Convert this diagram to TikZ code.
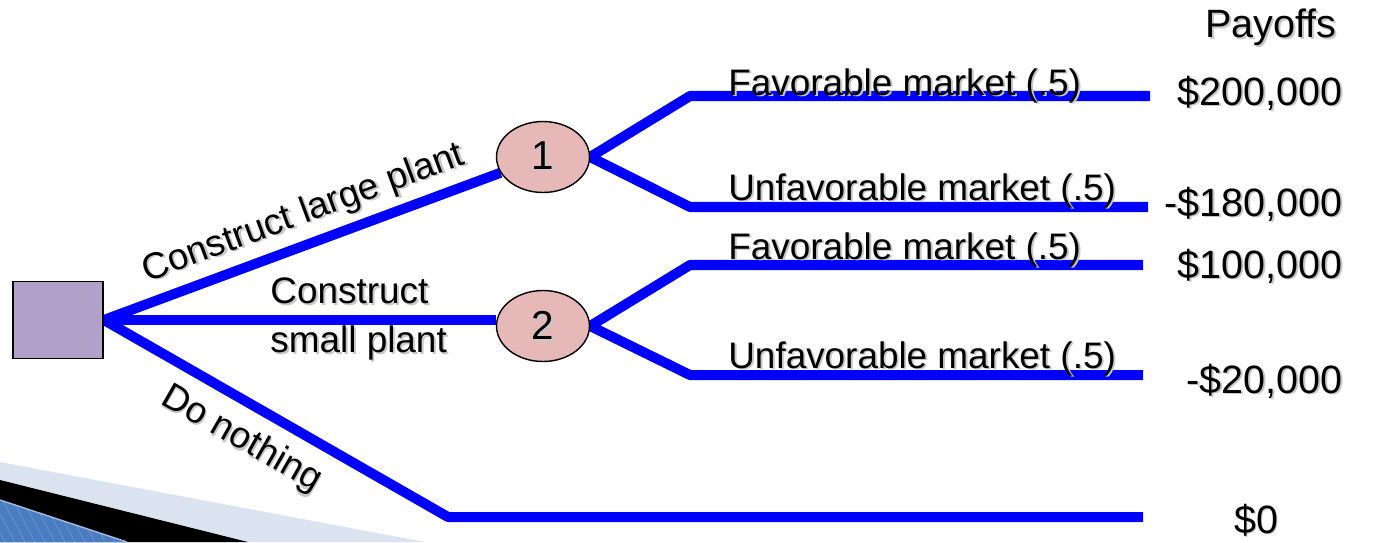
\documentclass[tikz,border=0pt]{standalone}
\usepackage{fontspec}
\setmainfont{Liberation Sans}
\usetikzlibrary{shapes.geometric,backgrounds}

\definecolor{branchblue}{RGB}{0,0,255}
\definecolor{chancepink}{RGB}{230,184,183}
\definecolor{decisionlilac}{RGB}{177,160,199}
\definecolor{bandgrey}{RGB}{220,227,240}
\definecolor{bandblue}{RGB}{74,124,194}
\definecolor{bandedge}{RGB}{160,186,225}

% text with a soft drop shadow
\newcommand{\softshadow}[1]{\makebox[0pt][l]{\hspace{1.1pt}\raisebox{-1.1pt}{\color{black!22}#1}}#1}

\begin{document}
\begin{tikzpicture}[x=0.02cm,y=-0.02cm,
                    every node/.style={font=\fontsize{21}{28}\selectfont},
                    branch/.style={draw=branchblue,line width=5.7pt,line join=round},
                    decision node/.style={rectangle,draw,line width=1.1pt,fill=decisionlilac,
                                          minimum width=1.8cm,minimum height=1.54cm},
                    chance node/.style={ellipse,draw,line width=0.8pt,fill=chancepink,
                                        minimum width=1.86cm,minimum height=1.42cm,inner sep=0pt,
                                        font=\fontsize{23}{28}\selectfont},
                    outcome/.style={anchor=base west,inner sep=0pt},
                    payoff/.style={anchor=base east,inner sep=0pt,font=\fontsize{22.5}{28}\selectfont}]
  \useasboundingbox (0,0) rectangle (1374,542);

  \node[decision node] (d) at (58,320) {};
  \node[chance node] (c1) at (543,157) {\raisebox{-3pt}{\softshadow{1}}};
  \node[chance node] (c2) at (543,326) {\raisebox{-3pt}{\softshadow{2}}};

  % bends and free ends of the branches
  \coordinate (f1) at (690,96);   \coordinate (f1e) at (1150,96);
  \coordinate (u1) at (690,207);  \coordinate (u1e) at (1148,207);
  \coordinate (f2) at (690,265);  \coordinate (f2e) at (1143,265);
  \coordinate (u2) at (690,375);  \coordinate (u2e) at (1143,375);
  \coordinate (dn) at (448,517);  \coordinate (dne) at (1143,517);

  \begin{pgfonlayer}{background}
    % slide corner
    \fill[bandgrey] (0,462) -- (425,542) -- (0,542) -- cycle;
    \fill[black] (0,480) -- (248,542) -- (0,542) -- cycle;
    \fill[bandblue] (0,500) -- (127,542) -- (0,542) -- cycle;
    \begin{scope}
      \clip (0,500) -- (127,542) -- (0,542) -- cycle;
      \foreach \x in {-40,-30,...,130}
        \draw[bandedge,opacity=0.35,line width=0.5pt] (\x,495) -- (\x+25,542);
    \end{scope}
    \draw[bandedge,line width=0.8pt] (0,500) -- (127,542);

    \path[branch]
      (d.east) edge node[sloped,above,pos=0.53] {\softshadow{Construct large plant}} (c1)
      (d.east) edge node[pos=0.65,align=left] {\softshadow{Construct}\\\softshadow{small plant}} (d.east -| c2.west);
    \draw[branch] (d.east) -- node[sloped,below=4pt,pos=0.45] {\softshadow{Do nothing}} (dn) -- (dne);
    \draw[branch] (c1.east) -- (f1) -- (f1e);
    \draw[branch] (c1.east) -- (u1) -- (u1e);
    \draw[branch] (c2.east) -- (f2) -- (f2e);
    \draw[branch] (c2.east) -- (u2) -- (u2e);
  \end{pgfonlayer}

  % chance outcomes
  \node[outcome] (lf1) at (728,95)  {\softshadow{Favorable market (.5)}};
  \node[outcome] (lu1) at (728,200) {\softshadow{Unfavorable market (.5)}};
  \node[outcome] (lf2) at (728,259) {\softshadow{Favorable market (.5)}};
  \node[outcome] (lu2) at (728,368) {\softshadow{Unfavorable market (.5)}};

  % payoff column
  \node[font=\fontsize{22.5}{28}\selectfont] (head) at (1271,28) {\softshadow{Payoffs}};
  \node[payoff] (p1) at (1343,105) {\softshadow{\$200,000}};
  \node[payoff] (p2) at (1343,216) {\softshadow{-\$180,000}};
  \node[payoff] (p3) at (1343,278) {\softshadow{\$100,000}};
  \node[payoff] (p4) at (1343,393) {\softshadow{-\$20,000}};
  \node[payoff,anchor=base] (p5) at (1256,533) {\softshadow{\$0}};
\end{tikzpicture}
\end{document}
